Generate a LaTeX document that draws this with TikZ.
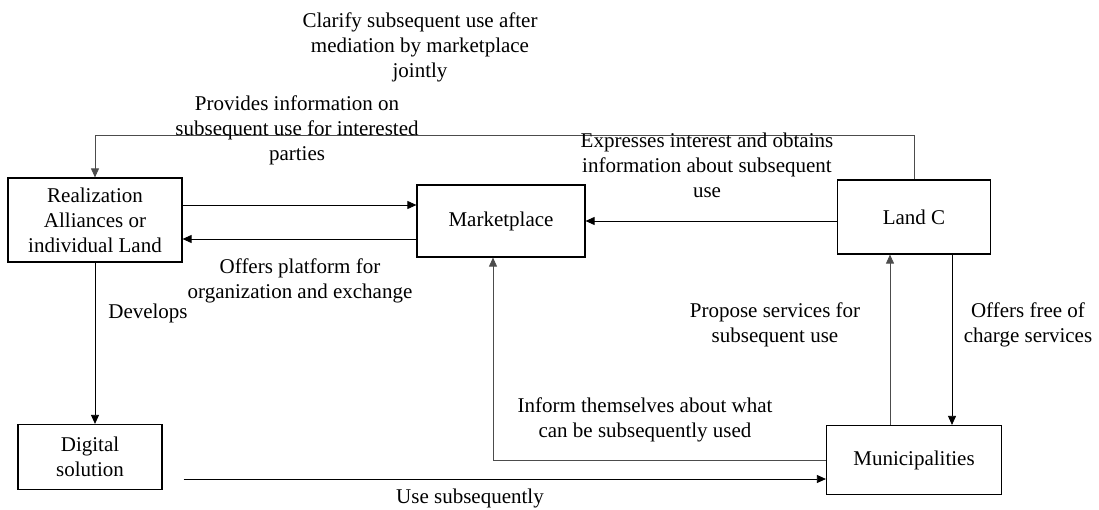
\documentclass[tikz,border=0pt]{standalone}
\usepackage{fontspec}
\setmainfont{Liberation Serif}
\usetikzlibrary{arrows.meta,calc}

\begin{document}
\begin{tikzpicture}[x=1pt,y=-1pt,
    box/.style={draw,line width=1.2pt,align=center,inner sep=0pt},
    arr/.style={line width=0.8pt,-{Triangle[length=9pt,width=8pt]}},
    lbl/.style={align=center,inner sep=0pt}]
        \useasboundingbox (0,0) rectangle (1099,510);
        \fontsize{21}{25}\selectfont
        % boxes
        \node[box,minimum width=174,minimum height=84] (rea) at (95,220) {Realization\\Alliances or\\individual Land};
        \node[box,minimum width=168,minimum height=72] (mkt) at (501,221) {Marketplace};
        \node[box,minimum width=153,minimum height=74] (land) at (914,217) {Land C};
        \node[box,minimum width=144,minimum height=65] (dig) at (90,457) {Digital\\solution};
        \node[box,minimum width=175,minimum height=69] (mun) at (914,460) {Municipalities};
        % connectors
        \draw[arr,black!70] (land.north) -- (914,135) -| (rea.north);
        \draw[arr] (rea.east |- 0,205) -- (mkt.west |- 0,205);
        \draw[arr] (mkt.west |- 0,239) -- (rea.east |- 0,239);
        \draw[arr] (land.west |- mkt.east) -- (mkt.east);
        \draw[arr] (rea.south) -- (rea.south |- dig.north);
        \draw[arr,shorten <=21pt] (dig.east |- 0,479) -- (mun.west |- 0,479);
        \draw[arr,black!70] (mun.west |- 0,460) -| (mkt.south -| 493,0);
        \draw[arr,black!70] (mun.north -| 890,0) -- (land.south -| 890,0);
        \draw[arr] (land.south -| 952,0) -- (mun.north -| 952,0);
        % labels
        \node[lbl] (l1) at (420,47) {Clarify subsequent use after\\mediation by marketplace\\jointly};
        \node[lbl] (l2) at (297,130) {Provides information on\\subsequent use for interested\\parties};
        \node[lbl] (l3) at (707,165) {Expresses interest and obtains\\information about subsequent\\use};
        \node[lbl] (l4) at (300,281) {Offers platform for\\organization and exchange};
        \node[lbl] (l5) at (148,313) {Develops};
        \node[lbl] (l6) at (775,325) {Propose services for\\subsequent use};
        \node[lbl] (l7) at (1028,325) {Offers free of\\charge services};
        \node[lbl] (l8) at (645,420) {Inform themselves about what\\can be subsequently used};
        \node[lbl] (l9) at (470,498) {Use subsequently};
\end{tikzpicture}
\end{document}
